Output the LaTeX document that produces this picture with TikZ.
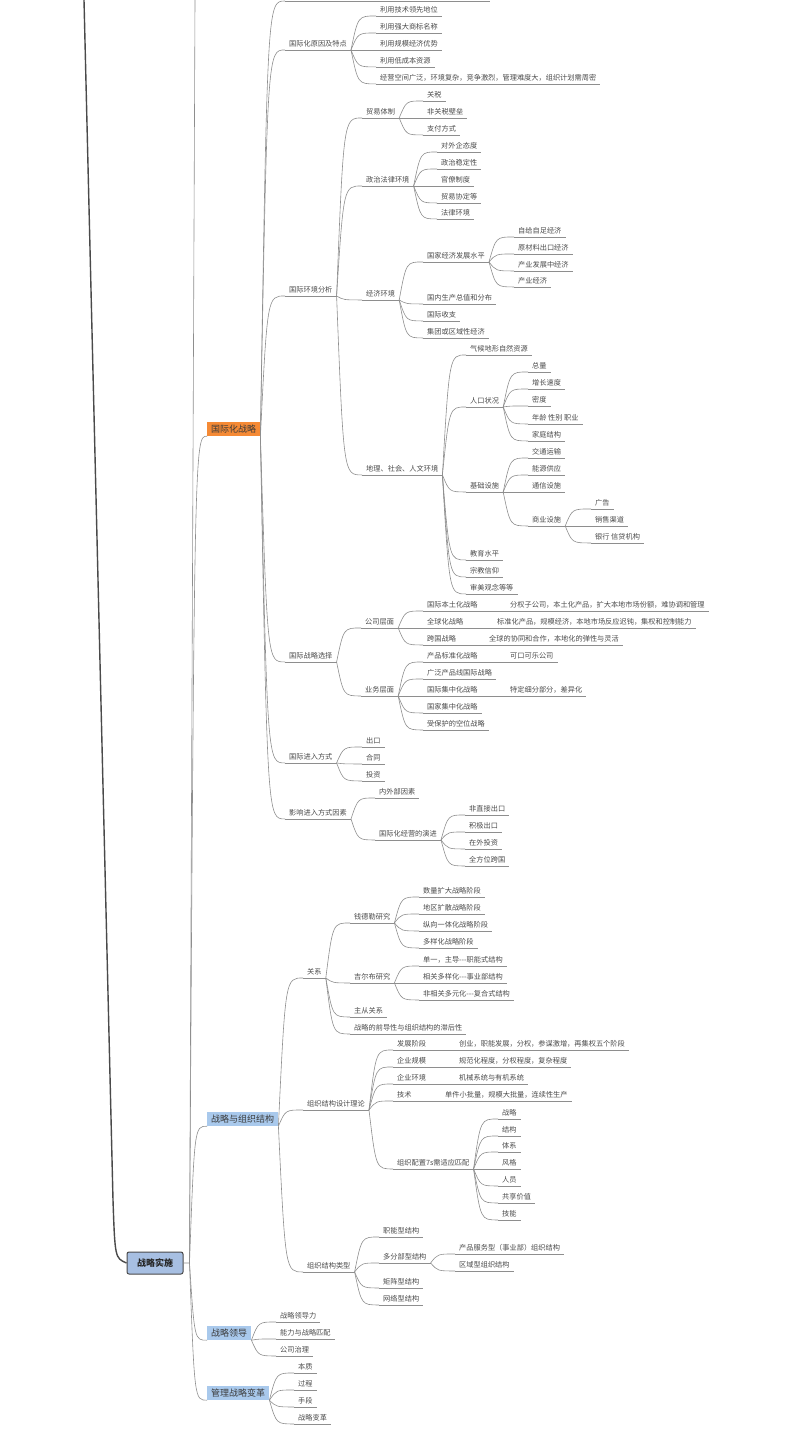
\documentclass[tikz,border=0pt]{standalone}
\usepackage{fontspec}
\setmainfont{Noto Sans CJK SC}
\usetikzlibrary{calc}

\definecolor{txt}{HTML}{4A4A4A}
\definecolor{linec}{HTML}{8E8E8E}
\definecolor{rootfill}{HTML}{A7BFE2}
\definecolor{rootline}{HTML}{4A4A4A}
\definecolor{hubblue}{HTML}{A9C9EC}
\definecolor{huborange}{HTML}{F58A35}

\newcommand{\curvelink}[2]{\draw[link] (#1.south east) .. controls ($(#1.south east |- #2.south west)+(7,0)$) .. (#2.south west);}
\newcommand{\flatlink}[2]{\draw[link] (#1.south east) -- (#2.south west);}

\begin{document}
\begin{tikzpicture}[x=1pt, y=-1pt,
  link/.style={draw=linec, line width=0.6pt},
  uline/.style={draw=linec, line width=0.6pt},
  topic/.style={anchor=west, text=txt, font=\fontsize{7.2}{8}\selectfont, inner xsep=4pt, inner ysep=1pt,
    text height=5.5pt, text depth=2pt,
    append after command={(\tikzlastnode.south west) edge[uline] (\tikzlastnode.south east)}},
  hub/.style={anchor=west, text=txt!80!black, font=\fontsize{9}{10}\selectfont, inner xsep=4pt, inner ysep=0pt, minimum height=14pt},
  rootbox/.style={draw=rootline, fill=rootfill, line width=1pt, rounded corners=2pt, text=black!85,
    font=\bfseries\fontsize{9}{10}\selectfont, minimum width=56pt, minimum height=22pt, inner sep=0pt}]

\useasboundingbox (0,0) rectangle (800,1437);

% centre topic
\node[rootbox] (root) at (155,1263) {战略实施};
\coordinate (hub) at ($(root.east)+(6,0)$);
\coordinate (upper) at (195,0);
\coordinate (outer) at (84,0);
\draw[rootline, line width=1.4pt] (outer) -- (113,1200) .. controls (115,1258) .. (root.west);
\draw[link] (root.east) -- (hub) -- (upper);

% main branches
\node[hub, fill=huborange] (intl) at (207,429) {国际化战略};
\node[hub, fill=hubblue] (orgs) at (207,1119) {战略与组织结构};
\node[hub, fill=hubblue] (lead) at (207,1333) {战略领导};
\node[hub, fill=hubblue] (change) at (207,1393) {管理战略变革};
\foreach \n in {intl,orgs,lead,change}
  {\draw[link] (hub) .. controls ($(hub |- \n.south west)+(5,0)$) .. (\n.south west);}

% 国际化战略
\coordinate (above) at (285,1);
\draw[uline] (above) -- ++(205,0);
\draw[link] (intl.south east) .. controls ($(intl.south east |- above)+(7,0)$) .. (above);

\node[topic] (reason) at (285,45) {国际化原因及特点};
\node[topic] (envir) at (285,291) {国际环境分析};
\node[topic] (choice) at (285,657) {国际战略选择};
\node[topic] (entry) at (285,758) {国际进入方式};
\node[topic] (factor) at (285,814) {影响进入方式因素};
\foreach \n in {reason,envir,choice,entry,factor} {\curvelink{intl}{\n}}

\foreach \t/\y [count=\i] in {利用技术领先地位/11, 利用强大商标名称/28, 利用规模经济优势/45, 利用低成本资源/62, 经营空间广泛，环境复杂，竞争激烈，管理难度大，组织计划需周密/79}
  {\node[topic] (reason\i) at (376,\y) {\t}; \curvelink{reason}{reason\i}}

% 国际环境分析
\node[topic] (trade) at (362,113) {贸易体制};
\node[topic] (politic) at (362,181) {政治法律环境};
\node[topic] (econ) at (362,295) {经济环境};
\node[topic] (geo) at (362,470) {地理、社会、人文环境};
\foreach \n in {trade,politic,econ,geo} {\curvelink{envir}{\n}}

\foreach \t/\y [count=\i] in {关税/96, 非关税壁垒/113, 支付方式/130}
  {\node[topic] (trade\i) at (423,\y) {\t}; \curvelink{trade}{trade\i}}
\foreach \t/\y [count=\i] in {对外企态度/147, 政治稳定性/164, 官僚制度/181, 贸易协定等/198, 法律环境/214}
  {\node[topic] (politic\i) at (437,\y) {\t}; \curvelink{politic}{politic\i}}

\node[topic] (level) at (423,257) {国家经济发展水平};
\curvelink{econ}{level}
\foreach \t/\y [count=\i] in {国内生产总值和分布/299, 国际收支/316, 集团或区域性经济/333}
  {\node[topic] (econ\i) at (423,\y) {\t}; \curvelink{econ}{econ\i}}
\foreach \t/\y [count=\i] in {自给自足经济/232, 原材料出口经济/249, 产业发展中经济/266, 产业经济/282}
  {\node[topic] (level\i) at (514,\y) {\t}; \curvelink{level}{level\i}}

\node[topic] (pop) at (466,402) {人口状况};
\node[topic] (infra) at (466,487) {基础设施};
\curvelink{geo}{pop}
\curvelink{geo}{infra}
\foreach \t/\y [count=\i] in {气候地形自然资源/350, 教育水平/555, 宗教信仰/572, 审美观念等等/589}
  {\node[topic] (geo\i) at (466,\y) {\t}; \curvelink{geo}{geo\i}}
\foreach \t/\y [count=\i] in {总量/367, 增长速度/384, 密度/401, 年龄 性别 职业/419, 家庭结构/436}
  {\node[topic] (pop\i) at (528,\y) {\t}; \curvelink{pop}{pop\i}}
\node[topic] (bizset) at (528,521) {商业设施};
\curvelink{infra}{bizset}
\foreach \t/\y [count=\i] in {交通运输/453, 能源供应/470, 通信设施/487}
  {\node[topic] (infra\i) at (528,\y) {\t}; \curvelink{infra}{infra\i}}
\foreach \t/\y [count=\i] in {广告/504, 销售渠道/521, 银行 信贷机构/538}
  {\node[topic] (bizset\i) at (591,\y) {\t}; \curvelink{bizset}{bizset\i}}

% 国际战略选择
\node[topic] (corp) at (361,623) {公司层面};
\node[topic] (unit) at (361,691) {业务层面};
\curvelink{choice}{corp}
\curvelink{choice}{unit}

\node[topic] (local) at (423,606) {国际本土化战略};
\node[topic] (global) at (423,623) {全球化战略};
\node[topic] (trans) at (423,640) {跨国战略};
\foreach \n in {local,global,trans} {\curvelink{corp}{\n}}
\node[topic] (localx) at (506,606) {分权子公司，本土化产品，扩大本地市场份额，难协调和管理};
\node[topic] (globalx) at (493,623) {标准化产品，规模经济，本地市场反应迟钝，集权和控制能力};
\node[topic] (transx) at (485,640) {全球的协同和合作，本地化的弹性与灵活};
\flatlink{local}{localx}
\flatlink{global}{globalx}
\flatlink{trans}{transx}

\node[topic] (std) at (423,657) {产品标准化战略};
\node[topic] (focus) at (423,691) {国际集中化战略};
\curvelink{unit}{std}
\curvelink{unit}{focus}
\foreach \t/\y [count=\i] in {广泛产品线国际战略/674, 国家集中化战略/708, 受保护的空位战略/725}
  {\node[topic] (unit\i) at (423,\y) {\t}; \curvelink{unit}{unit\i}}
\node[topic] (stdx) at (506,657) {可口可乐公司};
\node[topic] (focusx) at (506,691) {特定细分部分，差异化};
\flatlink{std}{stdx}
\flatlink{focus}{focusx}

% 进入方式
\foreach \t/\y [count=\i] in {出口/742, 合同/759, 投资/776}
  {\node[topic] (entry\i) at (362,\y) {\t}; \curvelink{entry}{entry\i}}
\node[topic] (inout) at (375,793) {内外部因素};
\node[topic] (evolve) at (375,835) {国际化经营的演进};
\curvelink{factor}{inout}
\curvelink{factor}{evolve}
\foreach \t/\y [count=\i] in {非直接出口/810, 积极出口/827, 在外投资/844, 全方位跨国/861}
  {\node[topic] (evolve\i) at (465,\y) {\t}; \curvelink{evolve}{evolve\i}}

% 战略与组织结构
\node[topic] (rel) at (303,973) {关系};
\node[topic] (design) at (303,1105) {组织结构设计理论};
\node[topic] (types) at (303,1267) {组织结构类型};
\foreach \n in {rel,design,types} {\curvelink{orgs}{\n}}

\node[topic] (chand) at (350,918) {钱德勒研究};
\node[topic] (gilb) at (350,978) {吉尔布研究};
\curvelink{rel}{chand}
\curvelink{rel}{gilb}
\foreach \t/\y [count=\i] in {主从关系/1012, 战略的前导性与组织结构的滞后性/1029}
  {\node[topic] (rel\i) at (350,\y) {\t}; \curvelink{rel}{rel\i}}
\foreach \t/\y [count=\i] in {数量扩大战略阶段/892, 地区扩散战略阶段/909, 纵向一体化战略阶段/926, 多样化战略阶段/943}
  {\node[topic] (chand\i) at (419,\y) {\t}; \curvelink{chand}{chand\i}}
\foreach \t/\y [count=\i] in {单一，主导-{}-{}-职能式结构/961, 相关多样化-{}-{}-事业部结构/978, 非相关多元化-{}-{}-复合式结构/995}
  {\node[topic] (gilb\i) at (419,\y) {\t}; \curvelink{gilb}{gilb\i}}

\node[topic] (stage) at (393,1045) {发展阶段};
\node[topic] (scale) at (393,1062) {企业规模};
\node[topic] (milieu) at (393,1079) {企业环境};
\node[topic] (tech) at (393,1096) {技术};
\node[topic] (sevens) at (393,1164) {组织配置7s需适应匹配};
\foreach \n in {stage,scale,milieu,tech,sevens} {\curvelink{design}{\n}}
\node[topic] (stagex) at (455,1045) {创业，职能发展，分权，参谋激增，再集权五个阶段};
\node[topic] (scalex) at (455,1062) {规范化程度，分权程度，复杂程度};
\node[topic] (milieux) at (455,1079) {机械系统与有机系统};
\node[topic] (techx) at (441,1096) {单件小批量，规模大批量，连续性生产};
\flatlink{stage}{stagex}
\flatlink{scale}{scalex}
\flatlink{milieu}{milieux}
\flatlink{tech}{techx}
\foreach \t/\y [count=\i] in {战略/1114, 结构/1131, 体系/1147, 风格/1164, 人员/1181, 共享价值/1198, 技能/1215}
  {\node[topic] (sevens\i) at (498,\y) {\t}; \curvelink{sevens}{sevens\i}}

\node[topic] (multi) at (379,1258) {多分部型结构};
\curvelink{types}{multi}
\foreach \t/\y [count=\i] in {职能型结构/1232, 矩阵型结构/1283, 网络型结构/1300}
  {\node[topic] (types\i) at (379,\y) {\t}; \curvelink{types}{types\i}}
\foreach \t/\y [count=\i] in {产品服务型（事业部）组织结构/1249, 区域型组织结构/1266}
  {\node[topic] (multi\i) at (455,\y) {\t}; \curvelink{multi}{multi\i}}

% 战略领导, 管理战略变革
\foreach \t/\y [count=\i] in {战略领导力/1317, 能力与战略匹配/1334, 公司治理/1351}
  {\node[topic] (lead\i) at (276,\y) {\t}; \curvelink{lead}{lead\i}}
\foreach \t/\y [count=\i] in {本质/1368, 过程/1385, 手段/1402, 战略变革/1419}
  {\node[topic] (change\i) at (294,\y) {\t}; \curvelink{change}{change\i}}
\end{tikzpicture}
\end{document}
